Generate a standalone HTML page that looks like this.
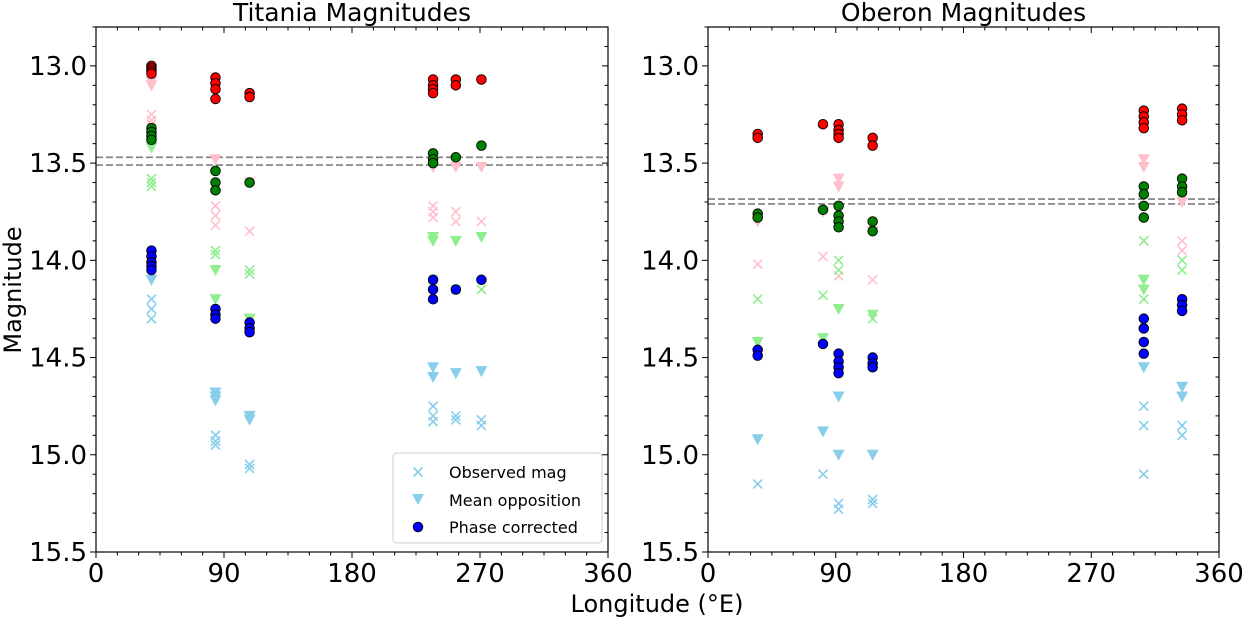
<!DOCTYPE html>
<html><head><meta charset="utf-8"><style>
body{margin:0;background:#fff}
svg{display:block;font-family:"DejaVu Sans","Liberation Sans",sans-serif}
</style></head><body>
<svg id="c" width="1243" height="617" viewBox="0 0 1243 617"></svg>
<script>
// ---- data ----
const titaniaLon = [39, 84, 108, 237, 253, 271];
const titaniaRedPhase = [[13.0,13.01,13.02,13.03,13.04],[13.06,13.09,13.12,13.17],[13.14,13.16],[13.07,13.1,13.12,13.14],[13.07,13.1],[13.07]];
const titaniaRedMean = [[13.05,13.08,13.1],[13.48],[13.6],[13.5,13.52],[13.52],[13.52]];
const titaniaRedObs = [[13.25,13.28,13.3],[13.72,13.77,13.82],[13.85],[13.72,13.75,13.78],[13.75,13.8],[13.8]];
const titaniaGreenPhase = [[13.32,13.34,13.36,13.38],[13.54,13.6,13.64],[13.6],[13.45,13.48,13.5],[13.47],[13.41]];
const titaniaGreenMean = [[13.4,13.42],[14.05,14.2],[14.3],[13.88,13.9],[13.9],[13.88]];
const titaniaGreenObs = [[13.58,13.6,13.62],[13.95,13.97],[14.05,14.07],[14.1,14.12],[14.15],[14.15]];
const titaniaBluePhase = [[13.95,13.98,14.01,14.03,14.05],[14.25,14.28,14.3],[14.32,14.35,14.37],[14.1,14.15,14.2],[14.15],[14.1]];
const titaniaBlueMean = [[14.1],[14.68,14.7,14.72],[14.8,14.82],[14.55,14.6],[14.58],[14.57]];
const titaniaBlueObs = [[14.2,14.25,14.3],[14.9,14.93,14.95],[15.05,15.07],[14.75,14.8,14.83],[14.8,14.82],[14.82,14.85]];
const titaniaDash = [13.47, 13.51];

const oberonLon = [35, 81, 92, 116, 307, 334];
const oberonRedPhase = [[13.35,13.37],[13.3],[13.3,13.33,13.35,13.37],[13.37,13.41],[13.23,13.26,13.29,13.32],[13.22,13.25,13.28]];
const oberonRedMean = [[13.8],[13.75],[13.58,13.62],[13.85],[13.48,13.52],[13.7]];
const oberonRedObs = [[14.02],[13.98],[14.08],[14.1],[13.9],[13.9,13.95]];
const oberonGreenPhase = [[13.76,13.78],[13.74],[13.72,13.77,13.8,13.83],[13.8,13.85],[13.62,13.66,13.72,13.78],[13.58,13.62,13.65]];
const oberonGreenMean = [[14.42],[14.4],[14.25],[14.28],[14.1,14.15],[14.25]];
const oberonGreenObs = [[14.2],[14.18],[14.0,14.05],[14.3],[13.9,14.2],[14.0,14.05]];
const oberonBluePhase = [[14.46,14.49],[14.43],[14.48,14.52,14.55,14.58],[14.5,14.53,14.55],[14.3,14.35,14.42,14.48],[14.2,14.23,14.26]];
const oberonBlueMean = [[14.92],[14.88],[14.7,15.0],[15.0],[14.55],[14.65,14.7]];
const oberonBlueObs = [[15.15],[15.1],[15.25,15.28],[15.23,15.25],[14.75,14.85,15.1],[14.85,14.9]];
const oberonDash = [13.685, 13.71];

const xTicks = [0, 90, 180, 270, 360];
const yTicks = ["13.0","13.5","14.0","14.5","15.0","15.5"];

// ---- drawing ----
const NS = "http://www.w3.org/2000/svg";
const svg = document.getElementById('c');
function mk(tag, attrs, parent){const e=document.createElementNS(NS,tag);for(const k in attrs)e.setAttribute(k,attrs[k]);(parent||svg).appendChild(e);return e;}
const Y0=27, Y1=552, MMIN=12.8, MMAX=15.5;
function yS(m){return Y0+(m-MMIN)/(MMAX-MMIN)*(Y1-Y0);}

function panel(name, x0, x1, title, lon, sets, dash){
  const g = mk('g',{});
  
  
  const xS = l => x0 + l/360*(x1-x0);
  dash.forEach(d=>{
    const l=mk('line',{x1:x0,x2:x1,y1:yS(d),y2:yS(d),stroke:'#808080','stroke-width':1.6,'stroke-dasharray':'7,3'},g);
    
    
  });
  sets.forEach(s=>{
    s.data.forEach((arr,i)=>{
      arr.forEach(m=>{
        const cx=xS(lon[i]), cy=yS(m);
        let e;
        if(s.type==='x'){
          e=mk('path',{d:`M${cx-4.5},${cy-4.5}L${cx+4.5},${cy+4.5}M${cx-4.5},${cy+4.5}L${cx+4.5},${cy-4.5}`,stroke:s.color,'stroke-width':1.6,fill:'none'},g);
        }else if(s.type==='v'){
          e=mk('path',{d:`M${cx-6},${cy-5}L${cx+6},${cy-5}L${cx},${cy+6}Z`,fill:s.color},g);
        }else{
          e=mk('circle',{cx:cx,cy:cy,r:4.8,fill:s.color,stroke:'#000','stroke-width':0.9},g);
        }
        
        
      });
    });
  });
  const fr=mk('rect',{x:x0,y:Y0,width:x1-x0,height:Y1-Y0,fill:'none',stroke:'#000','stroke-width':1.2},g);
  
  
  for(let k=0;k<=27;k++){
    const m=MMIN+k*0.1, y=yS(m), major=(k%5===2);
    mk('line',{x1:x0-(major?6:3.5),x2:x0,y1:y,y2:y,stroke:'#000','stroke-width':1},g);
    mk('line',{x1:x1,x2:x1-(major?6:3.5),y1:y,y2:y,stroke:'#000','stroke-width':1},g);
  }
  yTicks.forEach(t=>{
    const tx=mk('text',{x:x0-9,y:yS(+t)+9,'text-anchor':'end','font-size':26},g);
    tx.textContent=t;
    
    
  });
  for(let l=0;l<=360;l+=15){
    const x=xS(l), major=(l%90===0);
    mk('line',{x1:x,x2:x,y1:Y1,y2:Y1+(major?6:3.5),stroke:'#000','stroke-width':1},g);
    mk('line',{x1:x,x2:x,y1:Y0,y2:Y0+(major?6:3.5),stroke:'#000','stroke-width':1},g);
  }
  xTicks.forEach(t=>{
    const tx=mk('text',{x:xS(t),y:Y1+30,'text-anchor':'middle','font-size':26},g);
    tx.textContent=t;
    
    
  });
  const tt=mk('text',{x:(x0+x1)/2,y:21,'text-anchor':'middle','font-size':25},g);
  tt.textContent=title;
  
  
}
function sets(p){return [
  {name:'observed-mag-red',type:'x',color:'#ffc0cb',data:p.RedObs},
  {name:'mean-opposition-red',type:'v',color:'#ffc0cb',data:p.RedMean},
  {name:'observed-mag-green',type:'x',color:'#90ee90',data:p.GreenObs},
  {name:'mean-opposition-green',type:'v',color:'#90ee90',data:p.GreenMean},
  {name:'observed-mag-blue',type:'x',color:'#87ceeb',data:p.BlueObs},
  {name:'mean-opposition-blue',type:'v',color:'#87ceeb',data:p.BlueMean},
  {name:'phase-corrected-red',type:'o',color:'#ff0000',data:p.RedPhase},
  {name:'phase-corrected-green',type:'o',color:'#008000',data:p.GreenPhase},
  {name:'phase-corrected-blue',type:'o',color:'#0000ff',data:p.BluePhase}];}
panel('titania',96,608,'Titania Magnitudes',titaniaLon,sets({RedObs:titaniaRedObs,RedMean:titaniaRedMean,RedPhase:titaniaRedPhase,GreenObs:titaniaGreenObs,GreenMean:titaniaGreenMean,GreenPhase:titaniaGreenPhase,BlueObs:titaniaBlueObs,BlueMean:titaniaBlueMean,BluePhase:titaniaBluePhase}),titaniaDash);
panel('oberon',708,1219,'Oberon Magnitudes',oberonLon,sets({RedObs:oberonRedObs,RedMean:oberonRedMean,RedPhase:oberonRedPhase,GreenObs:oberonGreenObs,GreenMean:oberonGreenMean,GreenPhase:oberonGreenPhase,BlueObs:oberonBlueObs,BlueMean:oberonBlueMean,BluePhase:oberonBluePhase}),oberonDash);

const yl=mk('text',{x:0,y:0,'text-anchor':'middle','font-size':24,transform:'translate(21,290) rotate(-90)'});
yl.textContent='Magnitude';


const xl=mk('text',{x:657,y:612,'text-anchor':'middle','font-size':24});
xl.textContent='Longitude (°E)';



const lg=mk('g',{});


mk('rect',{x:393,y:453,width:209,height:90,rx:4,fill:'#fff','fill-opacity':0.8,stroke:'#ccc'},lg);
const lx=418;
mk('path',{d:`M${lx-4.5},${467.5}L${lx+4.5},${476.5}M${lx-4.5},${476.5}L${lx+4.5},${467.5}`,stroke:'#87ceeb','stroke-width':1.6},lg);
mk('path',{d:`M${lx-6},${494}L${lx+6},${494}L${lx},${505}Z`,fill:'#87ceeb'},lg);
mk('circle',{cx:lx,cy:527,r:4.8,fill:'#0000ff',stroke:'#000','stroke-width':0.9},lg);
[['Observed mag',478],['Mean opposition',506],['Phase corrected',533]].forEach(([t,y])=>{
  const e=mk('text',{x:449,y:y,'font-size':16},lg);
  e.textContent=t;
  
  
});
</script>
</body></html>
